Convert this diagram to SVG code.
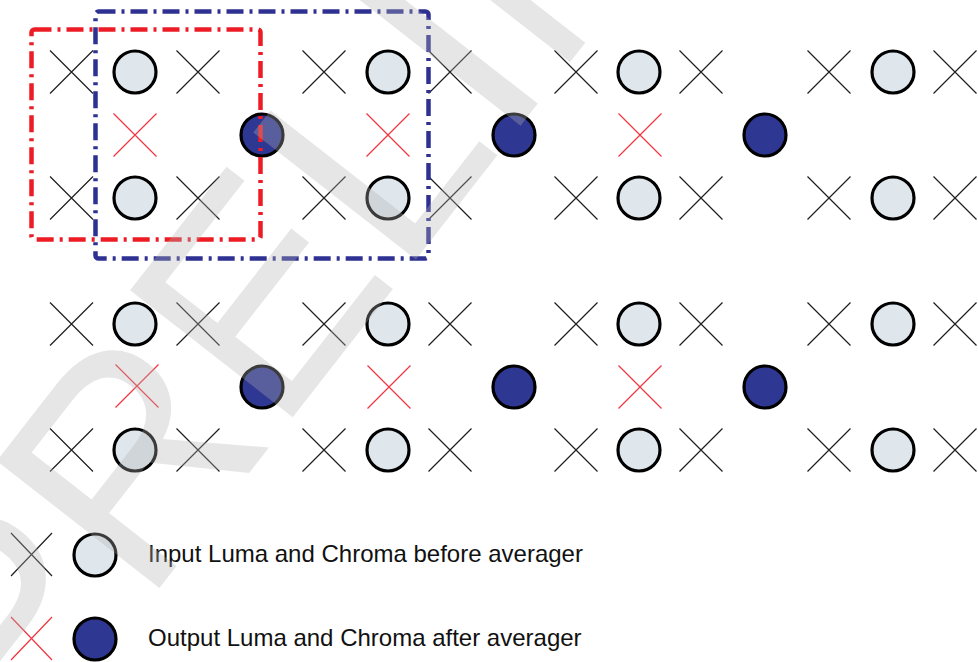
<svg xmlns="http://www.w3.org/2000/svg" xmlns:xlink="http://www.w3.org/1999/xlink" width="978" height="662" viewBox="0 0 978 662">
<style>
.x{stroke:#1e1e1e;stroke-width:1.2;fill:none}
.xr{stroke:#f03440;stroke-width:1.2;fill:none}
.in{fill:#dfe6ec;stroke:#000;stroke-width:3.2}
.out{fill:#2e3792;stroke:#000;stroke-width:3.2}
.txt{font-family:"Liberation Sans",Arial,sans-serif;font-size:24px;fill:#111}
.wm{font-family:"Liberation Sans",Arial,sans-serif;font-size:300px;fill:#b4b4b4;fill-opacity:0.33}
.win{fill:none;stroke-width:4.5;stroke-dasharray:17 6 3 6}
</style>
<defs>
<path id="xm" d="M-21.5,-21.5L21.5,21.5M21.5,-21.5L-21.5,21.5"/>
<path id="xs" d="M-20.5,-21.5L20.5,21.5M20.5,-21.5L-20.5,21.5"/>
</defs>
<rect width="978" height="662" fill="#fff"/>
<g id="upper-samples">
<g id="u-in-1"><use xlink:href="#xm" class="x" x="71.5" y="72"/><circle class="in" cx="135" cy="72" r="21"/><use xlink:href="#xm" class="x" x="198" y="72"/><use xlink:href="#xm" class="x" x="71.5" y="198"/><circle class="in" cx="135" cy="198" r="21"/><use xlink:href="#xm" class="x" x="198" y="198"/></g>
<g id="u-in-2"><use xlink:href="#xm" class="x" x="324" y="72"/><circle class="in" cx="388" cy="72" r="21"/><use xlink:href="#xm" class="x" x="450" y="72"/><use xlink:href="#xm" class="x" x="324" y="198"/><circle class="in" cx="388" cy="198" r="21"/><use xlink:href="#xm" class="x" x="450" y="198"/></g>
<g id="u-in-3"><use xlink:href="#xm" class="x" x="576" y="72"/><circle class="in" cx="639" cy="72" r="21"/><use xlink:href="#xm" class="x" x="701" y="72"/><use xlink:href="#xm" class="x" x="576" y="198"/><circle class="in" cx="639" cy="198" r="21"/><use xlink:href="#xm" class="x" x="701" y="198"/></g>
<g id="u-in-4"><use xlink:href="#xm" class="x" x="829" y="72"/><circle class="in" cx="893" cy="72" r="21"/><use xlink:href="#xm" class="x" x="955" y="72"/><use xlink:href="#xm" class="x" x="829" y="198"/><circle class="in" cx="893" cy="198" r="21"/><use xlink:href="#xm" class="x" x="955" y="198"/></g>
<g id="u-out"><use xlink:href="#xm" class="xr" x="135" y="135"/><circle class="out" cx="262" cy="135" r="21"/><use xlink:href="#xm" class="xr" x="388" y="135"/><circle class="out" cx="514" cy="135" r="21"/><use xlink:href="#xm" class="xr" x="640" y="135"/><circle class="out" cx="765" cy="135" r="21"/></g>
</g>
<g id="lower-samples">
<g id="l-in-1"><use xlink:href="#xm" class="x" x="71.5" y="324"/><circle class="in" cx="135" cy="324" r="21"/><use xlink:href="#xm" class="x" x="198" y="324"/><use xlink:href="#xm" class="x" x="71.5" y="450"/><circle class="in" cx="135" cy="450" r="21"/><use xlink:href="#xm" class="x" x="198" y="450"/></g>
<g id="l-in-2"><use xlink:href="#xm" class="x" x="324" y="324"/><circle class="in" cx="388" cy="324" r="21"/><use xlink:href="#xm" class="x" x="450" y="324"/><use xlink:href="#xm" class="x" x="324" y="450"/><circle class="in" cx="388" cy="450" r="21"/><use xlink:href="#xm" class="x" x="450" y="450"/></g>
<g id="l-in-3"><use xlink:href="#xm" class="x" x="576" y="324"/><circle class="in" cx="639" cy="324" r="21"/><use xlink:href="#xm" class="x" x="701" y="324"/><use xlink:href="#xm" class="x" x="576" y="450"/><circle class="in" cx="639" cy="450" r="21"/><use xlink:href="#xm" class="x" x="701" y="450"/></g>
<g id="l-in-4"><use xlink:href="#xm" class="x" x="829" y="324"/><circle class="in" cx="893" cy="324" r="21"/><use xlink:href="#xm" class="x" x="955" y="324"/><use xlink:href="#xm" class="x" x="829" y="450"/><circle class="in" cx="893" cy="450" r="21"/><use xlink:href="#xm" class="x" x="955" y="450"/></g>
<g id="l-out"><use xlink:href="#xm" class="xr" x="137" y="386"/><circle class="out" cx="262" cy="387" r="21"/><use xlink:href="#xm" class="xr" x="389" y="387"/><circle class="out" cx="514" cy="387" r="21"/><use xlink:href="#xm" class="xr" x="640" y="387"/><circle class="out" cx="765" cy="387" r="21"/></g>
</g>
<g id="window-red">
<rect class="win" x="31.5" y="29.5" width="229" height="210" rx="3" stroke="#ed1c24"/>
</g>
<g id="window-blue">
<rect class="win" x="95.5" y="11.5" width="333" height="247" rx="3" stroke="#2e3192"/>
</g>
<g id="legend">
<g id="legend-input"><use xlink:href="#xs" class="x" x="31.5" y="554.5"/><circle class="in" cx="95" cy="555" r="21"/><text class="txt" x="148" y="561.5">Input Luma and Chroma before averager</text></g>
<g id="legend-output"><use xlink:href="#xs" class="xr" x="31.5" y="638.5"/><circle class="out" cx="95" cy="639" r="21"/><text class="txt" x="148" y="645.5">Output Luma and Chroma after averager</text></g>
</g>
<text class="wm" transform="translate(21,765) rotate(-52)">PRELIMINARY</text>
</svg>
